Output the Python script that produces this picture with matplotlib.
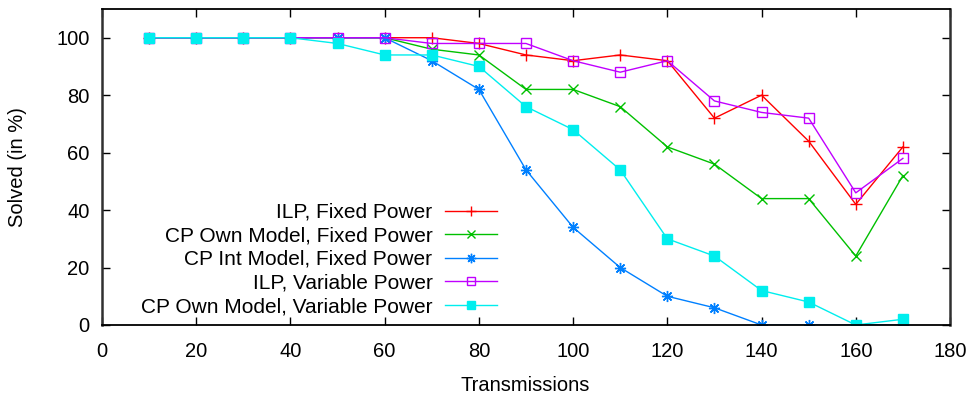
import matplotlib
matplotlib.use("Agg")
import matplotlib.pyplot as plt

transmissions = [10, 20, 30, 40, 50, 60, 70, 80, 90, 100, 110, 120, 130, 140, 150, 160, 170]
ilp_fixed = [100, 100, 100, 100, 100, 100, 100, 98, 94, 92, 94, 92, 72, 80, 64, 42, 62]
cp_own_fixed = [100, 100, 100, 100, 100, 100, 96, 94, 82, 82, 76, 62, 56, 44, 44, 24, 52]
cp_int_fixed = [100, 100, 100, 100, 100, 100, 92, 82, 54, 34, 20, 10, 6, 0, 0, 0, 0]
ilp_var = [100, 100, 100, 100, 100, 100, 98, 98, 98, 92, 88, 92, 78, 74, 72, 46, 58]
cp_own_var = [100, 100, 100, 100, 98, 94, 94, 90, 76, 68, 54, 30, 24, 12, 8, 0, 2]

labels = ["ILP, Fixed Power", "CP Own Model, Fixed Power", "CP Int Model, Fixed Power",
          "ILP, Variable Power", "CP Own Model, Variable Power"]
xticks = [0, 20, 40, 60, 80, 100, 120, 140, 160, 180]
yticks = [0, 20, 40, 60, 80, 100]

plt.rcParams['font.family'] = ['Liberation Sans', 'DejaVu Sans']
FS = 14.5
LFS = 15

fig = plt.figure(figsize=(9.74, 3.99), dpi=100)
ax = fig.add_axes([102/974, 1 - 325/399, (950-102)/974, (325-9)/399])

ax.plot(transmissions, ilp_fixed, color='#ff0000', lw=1, marker='+', ms=8, mew=1, label=labels[0])
ax.plot(transmissions, cp_own_fixed, color='#00c000', lw=1, marker='x', ms=7, mew=1, label=labels[1])
ax.plot(transmissions, cp_int_fixed, color='#0080ff', lw=1, marker=(8, 2, 0), ms=8, mew=1, label=labels[2])
ax.plot(transmissions, ilp_var, color='#c000ff', lw=1, marker='s', ms=7, mew=1,
        markerfacecolor='none', label=labels[3])
ax.plot(transmissions, cp_own_var, color='#00eeee', lw=1, marker='s', ms=7, mew=1, label=labels[4])

ax.set_xlim(0, 180)
ax.set_ylim(0, 110)
ax.set_xticks(xticks)
ax.set_yticks(yticks)
ax.tick_params(direction='in', length=6, width=1, top=True, right=True, labelsize=FS)
ax.tick_params(axis='x', pad=12)
ax.tick_params(axis='y', pad=9)
for name, s in ax.spines.items():
    if name in ('left', 'right'):
        s.set_linewidth(1.8)
        s.set_color('#303030')
    else:
        s.set_linewidth(1.3)
        s.set_color('#000000')

ax.set_xlabel("Transmissions", fontsize=FS)
ax.set_ylabel("Solved (in %)", fontsize=FS)
ax.xaxis.set_label_coords((525-102)/848, (325-376)/316)
ax.yaxis.set_label_coords((8-102)/848, 0.5)
ax.yaxis.label.set_va('top')

leg = ax.legend(loc='lower right', bbox_to_anchor=((497-102)/848, 0.028), frameon=False,
                markerfirst=False, fontsize=LFS, handlelength=2.5, labelspacing=0.22,
                handletextpad=0.6, borderaxespad=0, borderpad=0, markerscale=0.85)

fig.savefig("out.png", dpi=100)
